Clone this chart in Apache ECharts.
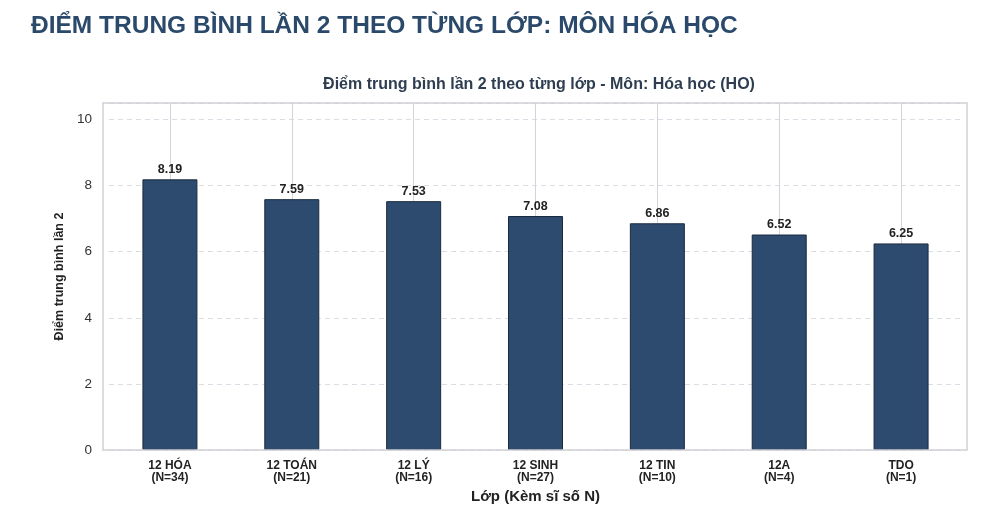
<!DOCTYPE html>
<html><head><meta charset="utf-8">
<script src="https://cdn.jsdelivr.net/npm/echarts@6/dist/echarts.min.js"></script>
<style>html,body{margin:0;padding:0;background:#fff}#c{width:1000px;height:517px}</style>
</head><body><div id="c"></div>
<script>
const classes = ['12 HÓA', '12 TOÁN', '12 LÝ', '12 SINH', '12 TIN', '12A', 'TDO'];
const counts = [34, 21, 16, 27, 10, 4, 1];
const means = [8.19, 7.59, 7.53, 7.08, 6.86, 6.52, 6.25];
const yTicks = [0, 2, 4, 6, 8, 10];

const cats = classes.map((c, i) => c + '\n(N=' + counts[i] + ')');
const chart = echarts.init(document.getElementById('c'));
const F = 'Liberation Sans, Arial, sans-serif';
chart.setOption({
  backgroundColor: '#fff',
  animation: false,
  title: [
    { text: 'ĐIỂM TRUNG BÌNH LẦN 2 THEO TỪNG LỚP: MÔN HÓA HỌC', left: 26, top: 9,
      textStyle: { fontFamily: F, fontWeight: 'bold', fontSize: 24.5, color: '#2b4a6b' } },
    { text: 'Điểm trung bình lần 2 theo từng lớp - Môn: Hóa học (HO)', left: 534, textAlign: 'center', top: 72,
      textStyle: { fontFamily: F, fontWeight: 'bold', fontSize: 16, color: '#2e3e50' } }
  ],
  graphic: [{ type: 'rect', shape: { x: 103, y: 103, width: 864, height: 347 }, z: 10, silent: true,
    style: { fill: 'none', stroke: '#cfcfd6', lineWidth: 1.5 } }],
  grid: { left: 109, right: 38, top: 103, bottom: 67 },
  xAxis: {
    type: 'category', data: cats,
    name: 'Lớp (Kèm sĩ số N)', nameLocation: 'middle', nameGap: 38,
    nameTextStyle: { fontFamily: F, fontWeight: 'bold', fontSize: 15, color: '#222' },
    axisLine: { show: false }, axisTick: { show: false },
    axisLabel: { fontFamily: F, fontWeight: 'bold', fontSize: 12, color: '#222', lineHeight: 12.5, margin: 9, interval: 0 },
    splitLine: { show: false }
  },
  yAxis: {
    type: 'value', min: 0, max: 10.5, interval: 2,
    name: 'Điểm trung bình lần 2', nameLocation: 'middle', nameGap: 43,
    nameTextStyle: { fontFamily: F, fontWeight: 'bold', fontSize: 12.5, color: '#222' },
    axisLine: { show: false }, axisTick: { show: false },
    axisLabel: { fontFamily: F, fontSize: 13.5, color: '#333', margin: 17,
      formatter: v => yTicks.includes(v) ? String(v) : '' },
    splitLine: { show: true, lineStyle: { color: '#dcdce4', type: [5, 4], width: 1 } }
  },
  series: [
    { type: 'line', data: [], silent: true, z: 1,
      markLine: { silent: true, z: 1, symbol: 'none', label: { show: false },
        lineStyle: { color: '#d3d3da', type: 'solid', width: 1 },
        data: cats.map(c => ({ xAxis: c })) } },
    { type: 'bar', data: means, barWidth: 55, z: 3,
      itemStyle: { color: '#2d4a6f', borderColor: '#1b2a3e', borderWidth: 1 },
      label: { show: true, position: 'top', distance: 3, fontFamily: F, fontWeight: 'bold', fontSize: 12.5, color: '#222',
        formatter: p => p.value.toFixed(2) } }
  ]
});
</script></body></html>
